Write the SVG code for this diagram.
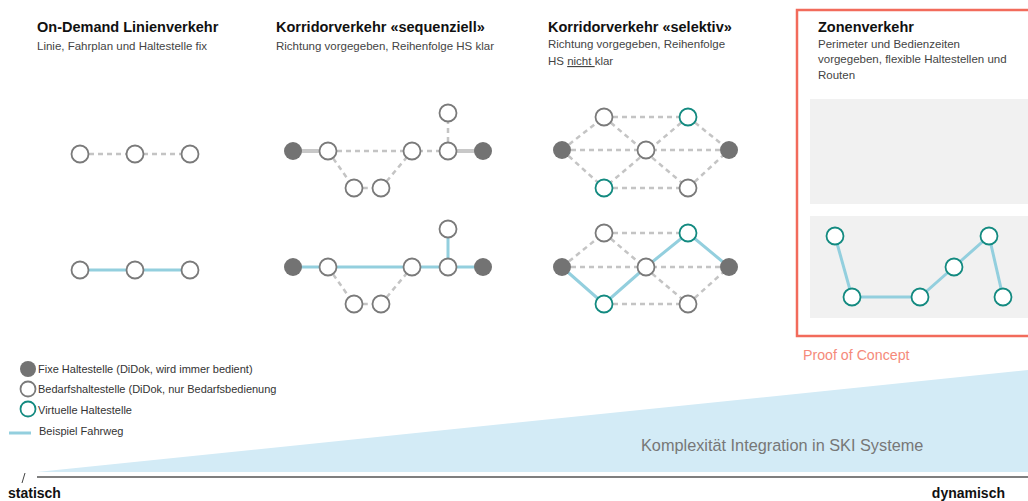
<svg xmlns="http://www.w3.org/2000/svg" width="1028" height="501" viewBox="0 0 1028 501">
<style>
.t{font-family:"Liberation Sans",Arial,sans-serif;font-weight:bold;font-size:14.5px;fill:#111}
.s{font-family:"Liberation Sans",Arial,sans-serif;font-size:11.5px;fill:#444}
.lg{font-family:"Liberation Sans",Arial,sans-serif;font-size:11px;fill:#333}
.ax{font-family:"Liberation Sans",Arial,sans-serif;font-weight:bold;font-size:14px;fill:#111}
.o{fill:#fff;stroke:#7a7a7a;stroke-width:1.8}
.f{fill:#737373}
.v{fill:#fff;stroke:#138a80;stroke-width:1.8}
.d{stroke:#c4c4c4;stroke-width:2.5;stroke-dasharray:5 4;fill:none}
.g{stroke:#c8c8c8;stroke-width:4;fill:none}
.b{stroke:#93cfde;stroke-width:3;fill:none}
</style>
<rect width="1028" height="501" fill="#fff"/>
<g id="triangle">
<polygon points="37,472 1028,370 1028,472" fill="#d3ebf6"/>
<text x="641" y="451" style="font-family:'Liberation Sans',Arial,sans-serif;font-size:16.3px;fill:#777">Komplexität Integration in SKI Systeme</text>
</g>
<g id="axis">
<line x1="37" y1="477" x2="1028" y2="477" stroke="#555" stroke-width="1.5"/>
<line x1="22" y1="483" x2="25" y2="473" stroke="#444" stroke-width="1"/>
<text x="8" y="498" class="ax">statisch</text>
<text x="1005" y="498" class="ax" text-anchor="end">dynamisch</text>
</g>
<g id="titles">
<text x="37" y="32" class="t">On-Demand Linienverkehr</text>
<text x="37" y="50" class="s">Linie, Fahrplan und Haltestelle fix</text>
<text x="276" y="32" class="t">Korridorverkehr «sequenziell»</text>
<text x="276" y="50" class="s">Richtung vorgegeben, Reihenfolge HS klar</text>
<text x="548" y="32" class="t">Korridorverkehr «selektiv»</text>
<text x="548" y="48" class="s">Richtung vorgegeben, Reihenfolge</text>
<text x="548" y="65" class="s">HS <tspan text-decoration="underline">nicht </tspan>klar</text>
</g>
<g id="zone">
<rect x="797" y="10" width="240" height="326" fill="none" stroke="#f26b5b" stroke-width="2.5"/>
<text x="818" y="32" class="t">Zonenverkehr</text>
<text x="818" y="48" class="s">Perimeter und Bedienzeiten</text>
<text x="818" y="63" class="s">vorgegeben, flexible Haltestellen und</text>
<text x="818" y="79" class="s">Routen</text>
<rect x="810" y="99" width="218" height="105" fill="#f1f1f1"/>
<rect x="810" y="216" width="218" height="102" fill="#f1f1f1"/>
<polyline class="b" points="835,236 852,297 920,297 954,267 989,236 1003,297"/>
<circle class="v" cx="835" cy="236" r="8.5"/>
<circle class="v" cx="852" cy="297" r="8.5"/>
<circle class="v" cx="920" cy="297" r="8.5"/>
<circle class="v" cx="954" cy="267" r="8.5"/>
<circle class="v" cx="989" cy="236" r="8.5"/>
<circle class="v" cx="1003" cy="297" r="8.5"/>
<text x="803" y="360" style="font-family:'Liberation Sans',Arial,sans-serif;font-size:14.2px;fill:#f58a7a">Proof of Concept</text>
</g>
<g id="connectors">
<line class="d" x1="80" y1="154" x2="190" y2="154"/>
<line class="b" x1="80" y1="270" x2="190" y2="270"/>
<line class="g" x1="293" y1="151" x2="328" y2="151"/>
<line class="g" x1="448" y1="151" x2="483" y2="151"/>
<polyline class="d" points="328,151 412,151 448,151"/>
<line class="d" x1="448" y1="151" x2="448" y2="113"/>
<polyline class="d" points="328,151 354,188 381,188 412,151"/>
<line class="b" x1="293" y1="267" x2="483" y2="267"/>
<line class="b" x1="448" y1="267" x2="448" y2="229"/>
<polyline class="d" points="328,267 354,304 381,304 412,267"/>
<g class="d">
<line x1="562" y1="150" x2="604" y2="117"/>
<line x1="562" y1="150" x2="729" y2="150"/>
<line x1="562" y1="150" x2="604" y2="188"/>
<line x1="604" y1="117" x2="688" y2="117"/>
<line x1="604" y1="117" x2="688" y2="188"/>
<line x1="688" y1="117" x2="604" y2="188"/>
<line x1="688" y1="117" x2="729" y2="150"/>
<line x1="604" y1="188" x2="688" y2="188"/>
<line x1="688" y1="188" x2="729" y2="150"/>
</g>
<g class="d">
<line x1="562" y1="267" x2="604" y2="233"/>
<line x1="562" y1="267" x2="729" y2="267"/>
<line x1="604" y1="233" x2="688" y2="233"/>
<line x1="604" y1="233" x2="688" y2="304"/>
<line x1="604" y1="304" x2="688" y2="304"/>
<line x1="688" y1="304" x2="729" y2="267"/>
</g>
<polyline class="b" points="562,267 604,304 646,267 688,233 729,267"/>
</g>
<g id="col1-nodes">
<circle class="o" cx="80" cy="154" r="8.5"/>
<circle class="o" cx="135" cy="154" r="8.5"/>
<circle class="o" cx="190" cy="154" r="8.5"/>
<circle class="o" cx="80" cy="270" r="8.5"/>
<circle class="o" cx="135" cy="270" r="8.5"/>
<circle class="o" cx="190" cy="270" r="8.5"/>
</g>
<g id="col2-nodes">
<circle class="f" cx="293" cy="151" r="9"/>
<circle class="o" cx="328" cy="151" r="8.5"/>
<circle class="o" cx="412" cy="151" r="8.5"/>
<circle class="o" cx="448" cy="151" r="8.5"/>
<circle class="o" cx="448" cy="113" r="8.5"/>
<circle class="f" cx="483" cy="151" r="9"/>
<circle class="o" cx="354" cy="188" r="8.5"/>
<circle class="o" cx="381" cy="188" r="8.5"/>
<circle class="f" cx="293" cy="267" r="9"/>
<circle class="o" cx="328" cy="267" r="8.5"/>
<circle class="o" cx="412" cy="267" r="8.5"/>
<circle class="o" cx="448" cy="267" r="8.5"/>
<circle class="o" cx="448" cy="229" r="8.5"/>
<circle class="f" cx="483" cy="267" r="9"/>
<circle class="o" cx="354" cy="304" r="8.5"/>
<circle class="o" cx="381" cy="304" r="8.5"/>
</g>
<g id="col3-nodes">
<circle class="f" cx="562" cy="150" r="9"/>
<circle class="o" cx="604" cy="117" r="8.5"/>
<circle class="v" cx="688" cy="117" r="8.5"/>
<circle class="o" cx="646" cy="150" r="8.5"/>
<circle class="f" cx="729" cy="150" r="9"/>
<circle class="v" cx="604" cy="188" r="8.5"/>
<circle class="o" cx="688" cy="188" r="8.5"/>
<circle class="f" cx="562" cy="267" r="9"/>
<circle class="o" cx="604" cy="233" r="8.5"/>
<circle class="v" cx="688" cy="233" r="8.5"/>
<circle class="o" cx="646" cy="267" r="8.5"/>
<circle class="f" cx="729" cy="267" r="9"/>
<circle class="v" cx="604" cy="304" r="8.5"/>
<circle class="o" cx="688" cy="304" r="8.5"/>
</g>
<g id="legend">
<circle class="f" cx="28" cy="369" r="8"/>
<text x="38" y="373" class="lg">Fixe Haltestelle (DiDok, wird immer bedient)</text>
<circle class="o" cx="28" cy="389" r="7.5"/>
<text x="38" y="393" class="lg">Bedarfshaltestelle (DiDok, nur Bedarfsbedienung</text>
<circle class="v" cx="28" cy="409" r="7.5"/>
<text x="38" y="414" class="lg">Virtuelle Haltestelle</text>
<line class="b" x1="9" y1="433" x2="31" y2="433"/>
<text x="39" y="435" class="lg">Beispiel Fahrweg</text>
</g>
</svg>
